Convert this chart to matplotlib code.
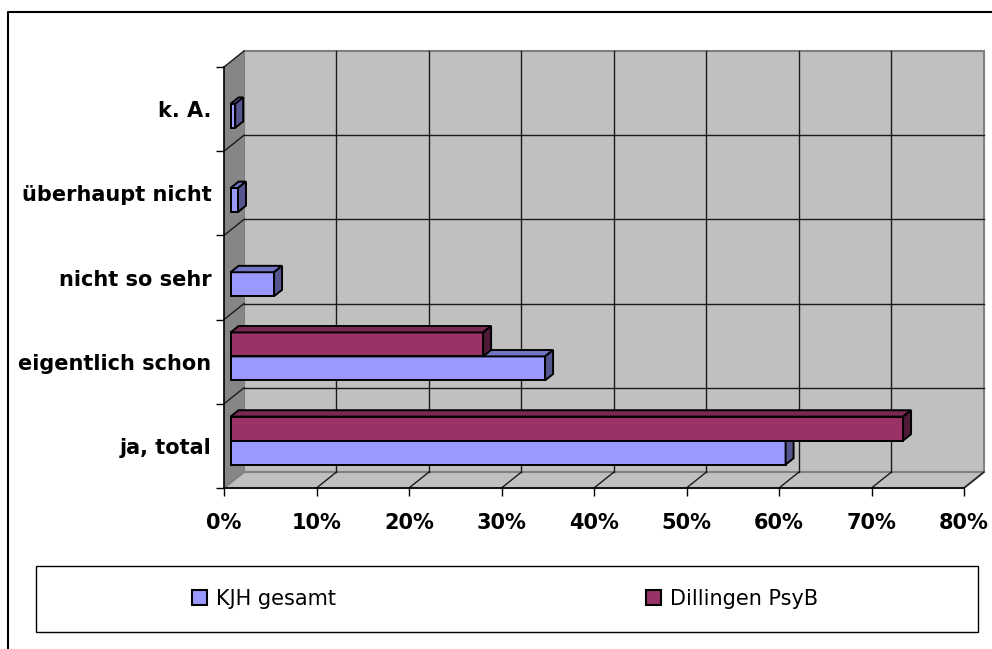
import numpy as np
import matplotlib.pyplot as plt
from matplotlib.patches import Polygon, Rectangle, Patch
from matplotlib.lines import Line2D

categories = ['ja, total', 'eigentlich schon', 'nicht so sehr', 'überhaupt nicht', 'k. A.']
kjh_gesamt = [60, 34, 4.7, 0.8, 0.5]
dillingen_psyb = [72.7, 27.3, 0, 0, 0]
series_names = ['KJH gesamt', 'Dillingen PsyB']
x_ticks = [0, 10, 20, 30, 40, 50, 60, 70, 80]
x_tick_labels = ['0%', '10%', '20%', '30%', '40%', '50%', '60%', '70%', '80%']

# colours: front, top, side
kjh_cols = ('#9999ff', '#7474c4', '#55558f')
dil_cols = ('#993366', '#7a2952', '#4f1a35')

# 3d depth in data units (20 px right, 16 px up)
DX = 2.16
DY = 0.19
D0, D1 = 0.33, 0.73
BH = 0.285

plt.rcParams['font.family'] = ['DejaVu Sans']

fig = plt.figure(figsize=(9.92, 6.49), dpi=100)
ax = fig.add_axes([224 / 992, 1 - 488 / 649, 740 / 992, 421 / 649])
ax.set_xlim(0, 80)
ax.set_ylim(0, 5)
ax.patch.set_visible(False)


def P(x, y, d):
    return (x + d * DX, y + d * DY)


def poly(pts, fc, ec='none', lw=1.0, z=1):
    ax.add_patch(Polygon(pts, closed=True, facecolor=fc, edgecolor=ec,
                         linewidth=lw, zorder=z, clip_on=False))


def line(p, q, c='black', lw=1.0, z=2):
    ax.add_line(Line2D([p[0], q[0]], [p[1], q[1]], color=c, lw=lw,
                       zorder=z, clip_on=False))


n = len(categories)
xmax = x_ticks[-1]

# walls and floor
poly([P(0, 0, 1), P(xmax, 0, 1), P(xmax, n, 1), P(0, n, 1)], '#c0c0c0', '#808080', 1.5, 0)
poly([P(0, 0, 0), P(0, n, 0), P(0, n, 1), P(0, 0, 1)], '#868686', 'none', 1, 0.5)
poly([P(0, 0, 0), P(xmax, 0, 0), P(xmax, 0, 1), P(0, 0, 1)], '#c0c0c0', '#808080', 1.5, 0.5)

# gridlines
for x in x_ticks[1:]:
    if x < xmax:
        line(P(x, 0, 1), P(x, n, 1), '#1a1a1a', 1.0, 1)
    line(P(x, 0, 0), P(x, 0, 1), '#1a1a1a', 1.0, 1)
for y in range(1, n):
    line(P(0, y, 1), P(xmax, y, 1), '#1a1a1a', 1.0, 1)
for y in range(1, n + 1):
    line(P(0, y, 0), P(0, y, 1), '#1a1a1a', 1.0, 1)


def bar3d(y0, w, cols):
    if w <= 0:
        return
    front, top, side = cols
    y1 = y0 + BH
    poly([P(0, y0, D0), P(w, y0, D0), P(w, y1, D0), P(0, y1, D0)], front, 'black', 1.4, 3)
    poly([P(0, y1, D0), P(w, y1, D0), P(w, y1, D1), P(0, y1, D1)], top, 'black', 1.4, 3)
    poly([P(w, y0, D0), P(w, y0, D1), P(w, y1, D1), P(w, y1, D0)], side, 'black', 1.4, 3)


for i in range(n):
    c = i + 0.5
    bar3d(c - BH, kjh_gesamt[i], kjh_cols)
    bar3d(c, dillingen_psyb[i], dil_cols)

# axes
for s in ['top', 'right']:
    ax.spines[s].set_visible(False)
for s in ['left', 'bottom']:
    ax.spines[s].set_linewidth(1.2)
    ax.spines[s].set_zorder(5)
ax.set_xticks(x_ticks)
ax.set_xticklabels(x_tick_labels, fontsize=15, fontweight='bold')
ax.tick_params(axis='x', direction='out', length=6, width=1, pad=12)
ax.set_yticks(np.arange(n) + 0.5)
ax.set_yticklabels(categories, fontsize=15, fontweight='bold')
ax.set_yticks(np.arange(n + 1), minor=True)
ax.tick_params(axis='y', which='major', length=0, pad=9)
ax.tick_params(axis='y', which='minor', direction='out', length=6, width=1)

# outer frame
fig.add_artist(Line2D([8 / 992, 8 / 992, 1.0], [0.0, 1 - 12 / 649, 1 - 12 / 649],
                      transform=fig.transFigure, color='black', lw=1.5))

# legend
fig.add_artist(Rectangle((36 / 992, 1 - 632 / 649), 942 / 992, 66 / 649,
                         transform=fig.transFigure, facecolor='white',
                         edgecolor='black', lw=1.0))
handles = [Patch(facecolor=kjh_cols[0], edgecolor='black', lw=1.5),
           Patch(facecolor=dil_cols[0], edgecolor='black', lw=1.5)]
fig.legend(handles, series_names, loc='center left',
           bbox_to_anchor=(192 / 992, 1 - 599 / 649), ncol=2, frameon=False,
           fontsize=15, handlelength=0.7, handleheight=0.7, handletextpad=0.45,
           columnspacing=14.9, borderpad=0, borderaxespad=0)

fig.savefig('out.png', dpi=100)
